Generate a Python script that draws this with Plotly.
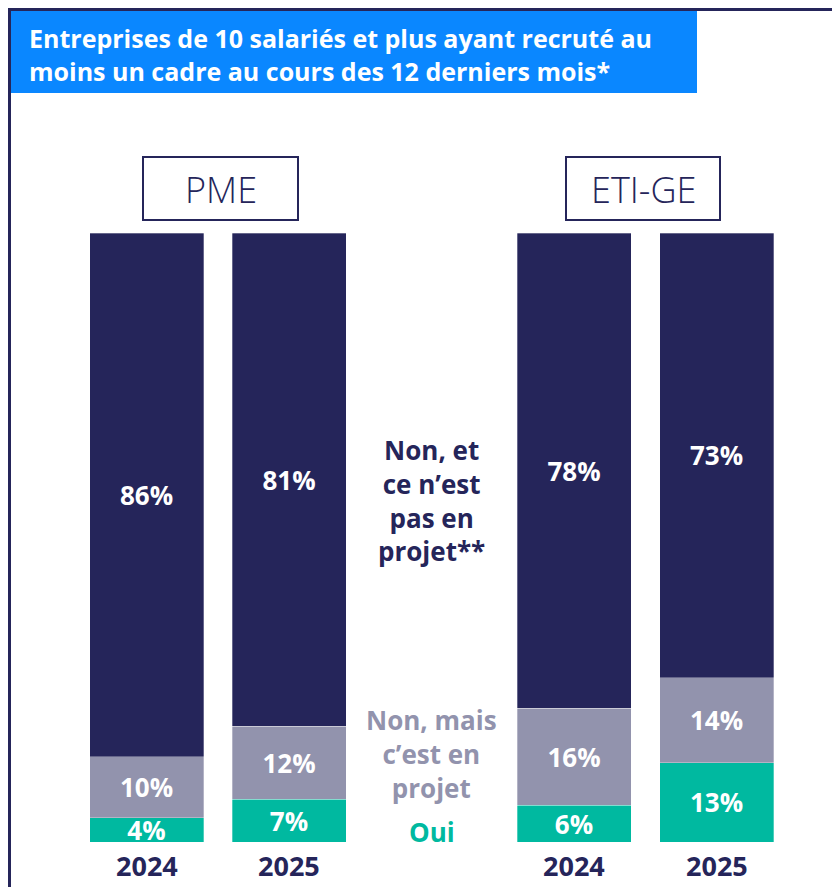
import plotly.graph_objects as go

# the page body adds an 8px margin, so the figure is drawn 16px smaller
W, H = 824, 879
OFF = 8

# data
bar_pos = [0, 1, 3, 4]
years = ["2024", "2025", "2024", "2025"]
groups = ["PME", "ETI-GE"]
oui = [4, 7, 6, 13]
non_projet = [10, 12, 16, 14]
non_pas = [86, 81, 78, 73]

navy = "#25255a"
grey = "#9293ad"
teal = "#00b9a0"
blue = "#0a87ff"
FONT = "Open Sans"


def px_x(p):
    return (p - OFF) / W


def px_y(p):
    return 1 - (p - OFF) / H


fig = go.Figure()
for vals, col in [(oui, teal), (non_projet, grey), (non_pas, navy)]:
    fig.add_trace(go.Bar(
        x=bar_pos, y=vals, width=0.8,
        marker=dict(color=col, line=dict(color="rgba(255,255,255,0.6)", width=0.5)),
        text=[f"{v}%" for v in vals], textposition="inside",
        insidetextanchor="middle", constraintext="none",
        textfont=dict(family=FONT, size=26, color="white", weight="bold"),
        hoverinfo="skip",
    ))

# frame and title box
shapes = [
    dict(type="line", xref="paper", yref="paper", x0=px_x(9.5), x1=px_x(9.5), y0=px_y(9.5), y1=px_y(900),
         line=dict(color=navy, width=3)),
    dict(type="line", xref="paper", yref="paper", x0=px_x(8), x1=px_x(845), y0=px_y(9.5), y1=px_y(9.5),
         line=dict(color=navy, width=3)),
    dict(type="rect", xref="paper", yref="paper", x0=px_x(11), x1=px_x(697), y0=px_y(11), y1=px_y(93),
         fillcolor=blue, line=dict(width=0), layer="below"),
    dict(type="rect", xref="paper", yref="paper", x0=px_x(143), x1=px_x(298), y0=px_y(157), y1=px_y(220),
         line=dict(color=navy, width=2)),
    dict(type="rect", xref="paper", yref="paper", x0=px_x(566), x1=px_x(720), y0=px_y(157), y1=px_y(220),
         line=dict(color=navy, width=2)),
]

ann = [
    dict(x=px_x(27), y=px_y(54), xref="paper", yref="paper", xanchor="left", yanchor="middle", align="left",
         text="Entreprises de 10 salariés et plus ayant recruté au<br>moins un cadre au cours des 12 derniers mois*",
         font=dict(family=FONT, size=25, color="white", weight="bold"), showarrow=False),
    dict(x=px_x(220.5), y=px_y(189), xref="paper", yref="paper", xanchor="center", yanchor="middle",
         text=groups[0], font=dict(family=FONT, size=36, color=navy, weight=300), showarrow=False),
    dict(x=px_x(643), y=px_y(189), xref="paper", yref="paper", xanchor="center", yanchor="middle",
         text=groups[1], font=dict(family=FONT, size=36, color=navy, weight=300), showarrow=False),
    dict(x=2, y=56, xref="x", yref="y", text="Non, et<br>ce n’est<br>pas en<br>projet**",
         font=dict(family=FONT, size=26, color=navy, weight="bold"), showarrow=False),
    dict(x=2, y=14.4, xref="x", yref="y", text="Non, mais<br>c’est en<br>projet",
         font=dict(family=FONT, size=26, color=grey, weight="bold"), showarrow=False),
    dict(x=2, y=1.6, xref="x", yref="y", text="Oui",
         font=dict(family=FONT, size=26, color=teal, weight="bold"), showarrow=False),
]
for xp, yr in zip(bar_pos, years):
    ann.append(dict(x=xp, y=-3.9, xref="x", yref="y", text=yr, showarrow=False,
                    font=dict(family=FONT, size=27, color=navy, weight="bold")))

x0 = 146.5 - OFF
y0 = 842 - OFF
fig.update_layout(
    barmode="stack", width=W, height=H, margin=dict(l=0, r=0, t=0, b=0),
    paper_bgcolor="white", plot_bgcolor="white", showlegend=False,
    xaxis=dict(range=[-x0 / 142.5, (W - x0) / 142.5], visible=False, fixedrange=True),
    yaxis=dict(range=[(y0 - H) / 6.09, y0 / 6.09], visible=False, fixedrange=True),
    shapes=shapes, annotations=ann,
)
fig.write_html("out.html")
